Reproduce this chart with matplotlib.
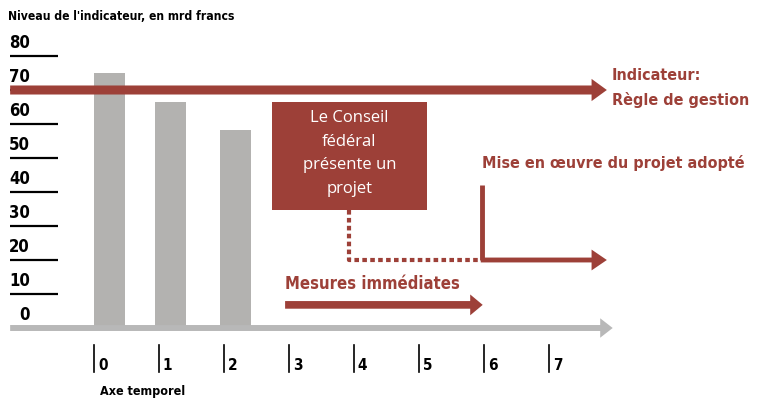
"""Indicateur / règle de gestion: schematic timeline chart."""

import matplotlib
matplotlib.use("Agg")
import matplotlib.pyplot as plt
from matplotlib.patches import FancyArrowPatch, Rectangle

RED = "#9d4038"
GREY_BAR = "#b3b2b0"
GREY_AXIS = "#b8b8b8"
NARROW = dict(family="DejaVu Sans", fontstretch="condensed", fontweight="bold")
BOX_FONT = ["Open Sans", "DejaVu Sans"]

# data
bar_periods = [0, 1, 2]
bar_values = [75, 66.5, 58.2]
y_ticks = [80, 70, 60, 50, 40, 30, 20, 10, 0]
time_ticks = [0, 1, 2, 3, 4, 5, 6, 7]
indicator_level = 70
project_level = 20
project_start = 6
box_lines = ["Le Conseil", "fédéral", "présente un", "projet"]

fig = plt.figure(figsize=(7.57, 4.0), dpi=100)
ax = fig.add_axes([0, 0, 1, 1])
# 1 period = 65 px, 10 units = 34 px
ax.set_xlim(-94 / 65, (757 - 94) / 65)
ax.set_ylim(-(400 - 328) / 3.4, 328 / 3.4)
ax.axis("off")


def arrow(x0, y0, x1, y1, color, tail, hw, hl):
    ax.add_patch(FancyArrowPatch(
        (x0, y0), (x1, y1),
        arrowstyle=f"simple,head_width={hw},head_length={hl},tail_width={tail}",
        color=color, mutation_scale=1, shrinkA=0, shrinkB=0, lw=0, zorder=4))


# title
ax.text(-1.32, 91.5, "Niveau de l'indicateur, en mrd francs", fontsize=8.7,
        va="center", ha="left", **NARROW)

# y ticks
for v in y_ticks:
    ax.text(-0.985, v + 1.3, str(v), fontsize=12, ha="right", va="bottom",
            **NARROW)
    if v > 0:
        ax.plot([-1.29, -0.55], [v, v], color="black", lw=1.6,
                solid_capstyle="butt", zorder=2)

# bars (drawn slightly left of the period ticks after the first one)
ax.bar([p - 0.06 * min(p, 1) for p in bar_periods], bar_values, width=0.48,
       align="edge", color=GREY_BAR, zorder=1)

# time axis
arrow(-1.29, 0, 7.98, 0, GREY_AXIS, 4.3, 14, 9)
for t in time_ticks:
    ax.plot([t, t], [-5, -13], color="black", lw=1.2, zorder=2)
    ax.text(t + 0.06, -13.2, str(t), fontsize=11, ha="left", va="bottom",
            **NARROW)
ax.text(0.09, -18.8, "Axe temporel", fontsize=9, ha="left", va="center",
        **NARROW)

# indicator
arrow(-1.29, indicator_level, 7.89, indicator_level, RED, 6.5, 16, 11)
ax.text(7.97, 74.4, "Indicateur:", fontsize=11.5, color=RED, ha="left",
        va="center", **NARROW)
ax.text(7.97, 67.0, "Règle de gestion", fontsize=11.5, color=RED, ha="left",
        va="center", **NARROW)

# box
ax.add_patch(Rectangle((2.74, 34.7), 5.12 - 2.74, 66.5 - 34.7,
                       color=RED, lw=0, zorder=3))
for i, line in enumerate(box_lines):
    ax.text(3.93, 61.8 - i * 6.95, line, family=BOX_FONT, fontsize=12,
            color="white", ha="center", va="center", zorder=5)

# dotted link
ax.plot([3.92, 3.92, 5.94], [34.7, project_level, project_level], color=RED,
        lw=3, linestyle=(0, (1.1, 0.8)), dash_capstyle="butt", zorder=3)

# implementation
ax.plot([project_start - 0.03] * 2, [42, project_level], color=RED, lw=3.5,
        solid_capstyle="butt", zorder=3)
arrow(project_start - 0.05, project_level, 7.89, project_level, RED, 3.5, 15, 11)
ax.text(5.97, 48.5, "Mise en œuvre du projet adopté", fontsize=11.5, color=RED,
        ha="left", va="center", **NARROW)

# immediate measures
arrow(2.94, 6.8, 5.98, 6.8, RED, 5.5, 15, 9)
ax.text(2.94, 13.0, "Mesures immédiates", fontsize=12, color=RED, ha="left",
        va="center", **NARROW)

fig.savefig("out.png", dpi=100)
